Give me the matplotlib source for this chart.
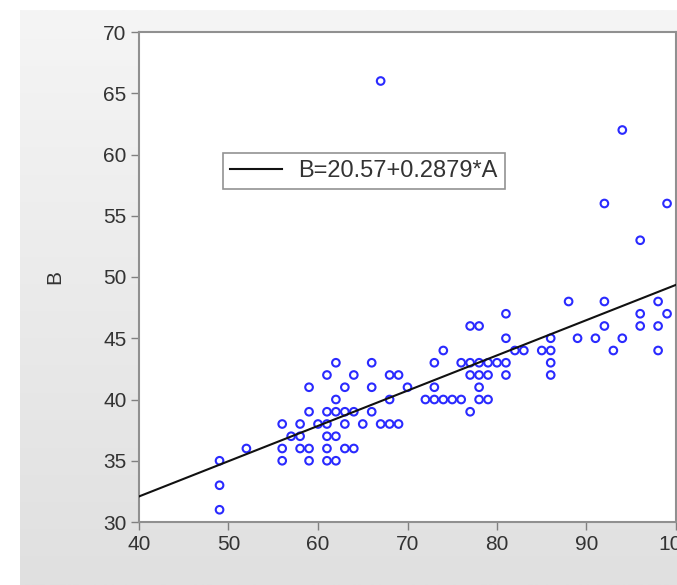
import matplotlib
matplotlib.use("Agg")
import matplotlib.pyplot as plt
import numpy as np
from matplotlib.colors import LinearSegmentedColormap

# ── data (A on x, B on y) ──────────────────────────────────────────────────
a_vals = [49, 49, 49, 52,
          56, 56, 56, 57, 58, 58, 58,
          59, 59, 59, 59, 60,
          61, 61, 61, 61, 61, 61,
          62, 62, 62, 62, 62,
          63, 63, 63, 63, 64, 64, 64, 65,
          66, 66, 66, 67, 67, 68, 68, 68, 69, 69, 70,
          72, 73, 73, 73, 74, 74, 75, 76, 76,
          77, 77, 77, 77, 78, 78, 78, 78, 78,
          79, 79, 79, 80, 81, 81, 81, 81, 82, 83, 85,
          86, 86, 86, 86, 88, 89, 91, 92, 92, 92, 93,
          94, 94, 96, 96, 96, 98, 98, 98, 99, 99]
b_vals = [35, 33, 31, 36,
          38, 36, 35, 37, 38, 37, 36,
          41, 39, 36, 35, 38,
          42, 39, 38, 37, 36, 35,
          43, 40, 39, 37, 35,
          41, 39, 38, 36, 42, 39, 36, 38,
          43, 41, 39, 66, 38, 42, 40, 38, 42, 38, 41,
          40, 43, 41, 40, 44, 40, 40, 43, 40,
          46, 43, 42, 39, 46, 43, 42, 41, 40,
          43, 42, 40, 43, 47, 45, 43, 42, 44, 44, 44,
          45, 44, 43, 42, 48, 45, 45, 56, 48, 46, 44,
          62, 45, 53, 47, 46, 48, 46, 44, 56, 47]

intercept = 20.57
slope = 0.2879
fit_label = "B=20.57+0.2879*A"

x_ticks = [40, 50, 60, 70, 80, 90, 100]
y_ticks = [30, 35, 40, 45, 50, 55, 60, 65, 70]


def main():
    plt.rcParams["font.family"] = ["Liberation Sans", "DejaVu Sans"]

    W, H = 677, 585
    fig = plt.figure(figsize=(W / 100, H / 100), dpi=100, facecolor="white")

    # ── grey gradient panel behind the chart ─────────────────────────────
    bg = fig.add_axes([0, 0, 1, 1], zorder=-5)
    bg.set_xlim(0, W)
    bg.set_ylim(H, 0)
    bg.axis("off")
    grad = np.linspace(0, 1, 256).reshape(-1, 1)
    cmap = LinearSegmentedColormap.from_list("bg", ["#f5f5f5", "#e0e0e0"])
    bg.imshow(grad, cmap=cmap, extent=(20, W, H, 10), aspect="auto")

    # ── main axes ─────────────────────────────────────────────────────────
    left, right, top, bottom = 139, 676, 32, 522
    ax = fig.add_axes([left / W, 1 - bottom / H,
                       (right - left) / W, (bottom - top) / H])
    ax.set_facecolor("white")

    ax.scatter(a_vals, b_vals, s=30, facecolors="none",
               edgecolors="#2a2aff", linewidths=1.5, zorder=3)

    xs = np.array([40, 100])
    ax.plot(xs, intercept + slope * xs, color="#111111", linewidth=1.5,
            zorder=4, label=fit_label)

    ax.set_xlim(40, 100)
    ax.set_ylim(30, 70)
    ax.set_xticks(x_ticks)
    ax.set_yticks(y_ticks)
    ax.tick_params(direction="out", length=6, width=1, color="#808080",
                   labelsize=15, labelcolor="#333333", pad=3)
    for s in ax.spines.values():
        s.set_color("#909090")
        s.set_linewidth(1.5)

    ax.set_ylabel("B", fontsize=15, color="#333333", labelpad=28)

    leg = ax.legend(loc="upper left", bbox_to_anchor=(0.156, 0.753),
                    borderaxespad=0, fontsize=17, frameon=True,
                    fancybox=False, handlelength=2.2, handletextpad=0.7,
                    borderpad=0.3)
    leg.get_frame().set_edgecolor("#777777")
    leg.get_frame().set_linewidth(1.2)
    for t in leg.get_texts():
        t.set_color("#333333")

    fig.savefig("out.png", dpi=100)


if __name__ == "__main__":
    main()
